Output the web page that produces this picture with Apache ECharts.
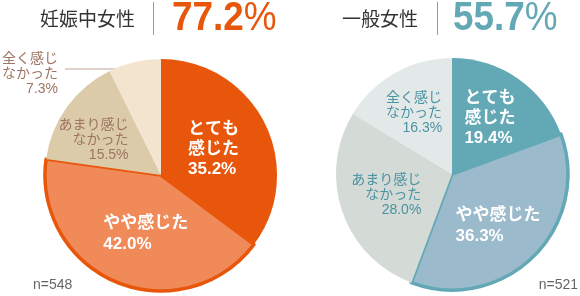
<!DOCTYPE html>
<html><head><meta charset="utf-8">
<script src="https://cdn.jsdelivr.net/npm/echarts@6/dist/echarts.min.js"></script>
<style>html,body{margin:0;padding:0;background:#fff}#c{width:580px;height:296px}</style>
</head><body><div id="c"></div>
<script>
// ---- data ----
const categories = ['とても\n感じた', 'やや感じた', 'あまり感じ\nなかった', '全く感じ\nなかった'];
const pregnantValues = [35.2, 42.0, 15.5, 7.3];
const generalValues = [19.4, 36.3, 28.0, 16.3];
const groupNames = ['妊娠中女性', '一般女性'];
const headlineValues = ['77.2', '55.7'];
const sampleSizes = ['n=548', 'n=521'];

// ---- layout / style ----
const FONT = '"Liberation Sans", "Noto Sans CJK JP", sans-serif';
const pies = [
  {
    center: [161, 175], radius: 116,
    colors: ['#E8560B', '#F08A59', '#DCCBA9', '#F3E4CF'],
    accent: '#E8560B', labelColor: '#9C7563', lineColor: '#BFA496',
    offsets: [[-2, 2], [8, 2], [-18, 1], null],
    values: pregnantValues
  },
  {
    center: [452, 174], radius: 116,
    colors: ['#62A8B5', '#9BBACB', '#D4DAD5', '#E3E9E8'],
    accent: '#62A8B5', labelColor: '#4A93A3', lineColor: '#9FC3CB',
    offsets: [[3, -6], [3, 9], [-8, 1], [-8, -8]],
    values: generalValues
  }
];

function buildSeries(p, si) {
  const data = categories.map((name, i) => {
    const strong = i < 2;
    const lineStyleTok = {
      align: strong ? 'left' : 'right',
      color: strong ? '#fff' : p.labelColor,
      fontSize: strong ? 17 : 14,
      fontWeight: strong ? 'bold' : 'normal',
      fontFamily: FONT,
      lineHeight: strong ? (i === 1 ? 21 : 20) : 15
    };
    const item = {
      name: name,
      value: p.values[i],
      itemStyle: { color: p.colors[i], borderWidth: 0 },
      label: {
        position: 'inside',
        color: lineStyleTok.color,
        fontSize: lineStyleTok.fontSize,
        fontWeight: lineStyleTok.fontWeight,
        lineHeight: lineStyleTok.lineHeight,
        verticalAlign: 'middle',
        rich: { l: lineStyleTok }
      },
      labelLine: { show: false }
    };
    if (i === 1) {
      item.itemStyle.borderColor = p.accent;
      item.itemStyle.borderWidth = 3.5;
    }
    if (si === 0 && i === 3) {
      item.label.position = 'outside';
      item.labelLine = { show: true, lineStyle: { color: p.lineColor, width: 1 } };
    }
    return item;
  });
  const cx = p.center[0], cy = p.center[1];
  return {
    type: 'pie',
    center: p.center,
    radius: p.radius,
    startAngle: 90,
    clockwise: true,
    avoidLabelOverlap: false,
    silent: true,
    animation: false,
    label: {
      show: true,
      fontFamily: FONT,
      formatter: (prm) => (prm.name + '\n' + prm.value.toFixed(1) + '%')
        .split('\n').map(s => '{l|' + s + '}').join('\n')
    },
    labelLayout: function (prm) {
      const off = p.offsets[prm.dataIndex];
      if (off) return { dx: off[0], dy: off[1] };
      // outside label with horizontal leader line
      return {
        x: cx - 103, y: cy - 101, align: 'right', verticalAlign: 'middle',
        labelLinePoints: [[cx - 22, cy - 106], [cx - 60, cy - 106], [cx - 96, cy - 106]]
      };
    },
    data: data
  };
}

const headerX = [
  { name: 40, sep: 153, num: 172 },
  { name: 342, sep: 437, num: 453 }
];
const graphics = [];
headerX.forEach((h, i) => {
  graphics.push({
    type: 'text', x: h.name, y: 19, silent: true,
    style: { text: groupNames[i], fontSize: 19, fontFamily: '"Noto Sans CJK JP", sans-serif',
      fill: '#333', verticalAlign: 'middle', align: 'left' }
  });
  graphics.push({
    type: 'line', silent: true,
    shape: { x1: h.sep + 0.5, y1: 2, x2: h.sep + 0.5, y2: 35 },
    style: { stroke: '#9a9a9a', lineWidth: 1 }
  });
  graphics.push({
    type: 'text', x: h.num, y: 19, scaleX: 0.9, silent: true,
    style: {
      text: '{a|' + headlineValues[i] + '}{b|%}',
      verticalAlign: 'middle', align: 'left',
      rich: {
        a: { fontSize: 41, fontWeight: 'bold', fontFamily: FONT, fill: pies[i].accent },
        b: { fontSize: 41, fontWeight: 'normal', fontFamily: FONT, fill: pies[i].accent }
      }
    }
  });
});
graphics.push({
  type: 'text', x: 33, y: 285, silent: true,
  style: { text: sampleSizes[0], fontSize: 14, fontFamily: FONT, fill: '#666', verticalAlign: 'middle', align: 'left' }
});
graphics.push({
  type: 'text', x: 578, y: 285, silent: true,
  style: { text: sampleSizes[1], fontSize: 14, fontFamily: FONT, fill: '#666', verticalAlign: 'middle', align: 'right' }
});

const chart = echarts.init(document.getElementById('c'), null, { renderer: 'canvas' });
chart.setOption({
  backgroundColor: '#fff',
  animation: false,
  series: pies.map(buildSeries),
  graphic: graphics
});
</script>
</body></html>
